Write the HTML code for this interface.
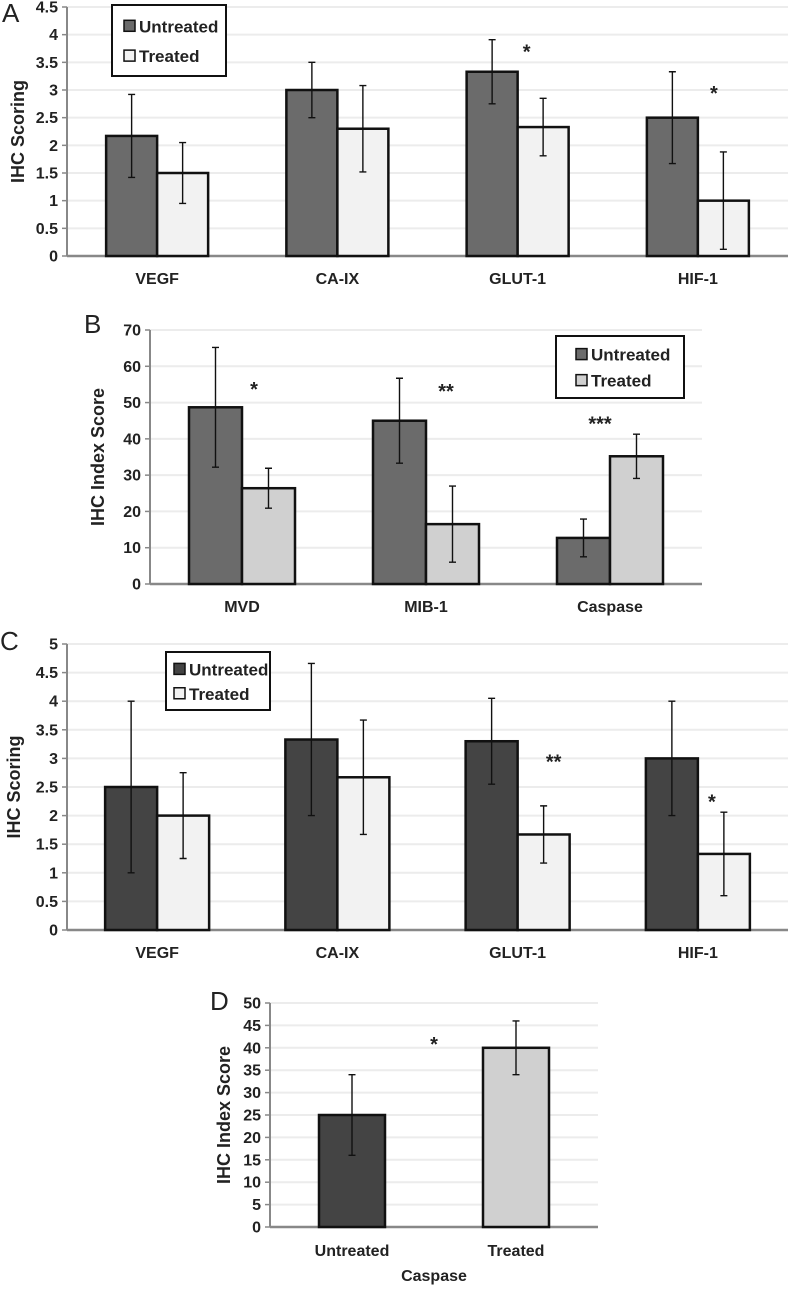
<!DOCTYPE html>
<html><head><meta charset="utf-8"><style>
body{margin:0;background:#fff;width:799px;height:1285px;overflow:hidden}
svg{font-family:"Liberation Sans",Arial,sans-serif}
</style></head><body>
<svg id="s" width="799" height="1285" xmlns="http://www.w3.org/2000/svg"></svg>
<script>
// Panel A
const catsA=["VEGF","CA-IX","GLUT-1","HIF-1"];
const untrA=[2.17,3.0,3.33,2.5];
const untrErrA=[0.75,0.5,0.58,0.83];
const trA=[1.5,2.3,2.33,1.0];
const trErrA=[0.55,0.78,0.52,0.88];
const ticksA=["0","0.5","1","1.5","2","2.5","3","3.5","4","4.5"];
const starsA=["","","*","*"];
const starValA=[0,0,3.75,3.0];
// Panel B
const catsB=["MVD","MIB-1","Caspase"];
const untrB=[48.7,45,12.7];
const untrErrB=[16.5,11.7,5.2];
const trB=[26.4,16.5,35.2];
const trErrB=[5.5,10.5,6.1];
const ticksB=["0","10","20","30","40","50","60","70"];
const starsB=["*","**","***"];
const starValB=[54.5,54,45];
// Panel C
const catsC=["VEGF","CA-IX","GLUT-1","HIF-1"];
const untrC=[2.5,3.33,3.3,3.0];
const untrErrC=[1.5,1.33,0.75,1.0];
const trC=[2.0,2.67,1.67,1.33];
const trErrC=[0.75,1.0,0.5,0.73];
const ticksC=["0","0.5","1","1.5","2","2.5","3","3.5","4","4.5","5"];
const starsC=["","","**","*"];
const starValC=[0,0,3.0,2.3];
// Panel D
const catsD=["Untreated","Treated"];
const valsD=[25,40];
const errD=[9,6];
const ticksD=["0","5","10","15","20","25","30","35","40","45","50"];

const NS="http://www.w3.org/2000/svg";
const svg=document.getElementById('s');
function mk(tag,attrs,parent){const e=document.createElementNS(NS,tag);for(const k in attrs)e.setAttribute(k,attrs[k]);(parent||svg).appendChild(e);return e;}
function txt(x,y,s,size,anchor,weight,parent){const t=mk('text',{x:x,y:y,'font-size':size,'text-anchor':anchor,'font-weight':weight,fill:'#222'},parent);t.textContent=s;return t;}

function panel(o){
  const g=mk('g',{});
  
  
  const ticks=o.ticks.map(Number);const maxV=ticks[ticks.length-1];
  const y=v=>o.y0-(v/maxV)*(o.y0-o.yTop);
  const gw=(o.x1-o.x0)/o.cats.length;
  const xc=i=>o.x0+gw*(i+0.5);
  ticks.forEach((tv,i)=>{
    const l=mk('line',{x1:o.x0,x2:o.x1,y1:y(tv),y2:y(tv),stroke:i?'#ececec':'#888','stroke-width':i?2:2.5},g);
    
    mk('line',{x1:o.x0-5,x2:o.x0,y1:y(tv),y2:y(tv),stroke:'#888','stroke-width':1.5},g);
    const t=txt(o.x0-9,y(tv)+5.5,o.ticks[i],16,'end','bold',g);
    
  });
  const ax=mk('line',{x1:o.x0,x2:o.x0,y1:o.yTop,y2:o.y0,stroke:'#888','stroke-width':2},g);
  
  o.series.forEach((s,si)=>{
    s.vals.forEach((v,i)=>{
      const bx=o.single?xc(i)-o.bw/2:xc(i)-o.bw+si*o.bw;
      const fill=o.single?o.colors[i]:s.color;
      const r=mk('rect',{x:bx,y:y(v),width:o.bw,height:o.y0-y(v),fill:fill,stroke:'#111','stroke-width':2.5},g);
      
      const cx=bx+o.bw/2,e=s.err[i];
      const eb=mk('path',{d:`M${cx-3.5},${y(v+e)}H${cx+3.5}M${cx},${y(v+e)}V${y(Math.max(v-e,0))}M${cx-3.5},${y(Math.max(v-e,0))}H${cx+3.5}`,stroke:'#111','stroke-width':1.4,fill:'none'},g);
      
    });
  });
  o.cats.forEach((c,i)=>{const t=txt(xc(i),o.catY,c,16,'middle','bold',g);});
  if(o.stars)o.stars.forEach((s,i)=>{if(!s)return;const t=txt(xc(i)+o.starDx[i],y(o.starVals[i])+10,s,20,'middle','bold',g);});
  const at=txt(0,0,o.title,18,'middle','bold',g);at.setAttribute('transform',`translate(${o.titleX},${(o.y0+o.yTop)/2}) rotate(-90)`);
  
  const pl=mk('text',{x:o.labX,y:o.labY,'font-size':26,fill:'#222'},g);pl.textContent=o.label;
  
  if(o.legend){const L=o.legend;
    const lg=mk('g',{},g);
    mk('rect',{x:L.x,y:L.y,width:L.w,height:L.h,fill:'#fff',stroke:'#111','stroke-width':2},lg);
    o.series.forEach((s,si)=>{const yy=L.y+L.h*(si?0.72:0.3);
      const sw=mk('rect',{x:L.x+L.sx,y:yy-6,width:11,height:11,fill:s.color,stroke:'#111','stroke-width':1.5},lg);
      
      const t=txt(L.x+L.sx+15,yy+6,s.key==='untreated'?'Untreated':'Treated',17,'start','bold',lg);
      });
  }
  if(o.xTitle){const t=txt((o.x0+o.x1)/2,o.xTitleY,o.xTitle,16,'middle','bold',g);}
}

panel({name:'panel-a',label:'A',labX:2,labY:22,cats:catsA,ticks:ticksA,x0:67,x1:788,y0:256,yTop:7,bw:51,catY:284,
  series:[{key:'untreated',vals:untrA,err:untrErrA,color:'#6b6b6b'},{key:'treated',vals:trA,err:trErrA,color:'#f2f2f2'}],
  stars:starsA,starVals:starValA,starDx:[0,0,9,16],title:'IHC Scoring',titleX:24,legend:{x:112,y:5,w:114,h:71,sx:12}});
panel({name:'panel-b',label:'B',labX:84,labY:333,cats:catsB,ticks:ticksB,x0:150,x1:702,y0:584,yTop:330,bw:53,catY:612,
  series:[{key:'untreated',vals:untrB,err:untrErrB,color:'#6b6b6b'},{key:'treated',vals:trB,err:trErrB,color:'#d0d0d0'}],
  stars:starsB,starVals:starValB,starDx:[12,20,-10],title:'IHC Index Score',titleX:104,legend:{x:556,y:336,w:128,h:62,sx:20}});
panel({name:'panel-c',label:'C',labX:0,labY:650,cats:catsC,ticks:ticksC,x0:67,x1:788,y0:930,yTop:644,bw:52,catY:958,
  series:[{key:'untreated',vals:untrC,err:untrErrC,color:'#444444'},{key:'treated',vals:trC,err:trErrC,color:'#f2f2f2'}],
  stars:starsC,starVals:starValC,starDx:[0,0,36,14],title:'IHC Scoring',titleX:20,legend:{x:166,y:652,w:104,h:58,sx:8}});
panel({name:'panel-d',label:'D',labX:210,labY:1010,cats:catsD,ticks:ticksD,x0:270,x1:598,y0:1227,yTop:1003,bw:66,single:true,catY:1256,colors:['#444444','#d0d0d0'],
  series:[{key:'caspase',vals:valsD,err:errD,color:'#444'}],
  stars:['','*'],starVals:[0,41.5],starDx:[0,-82],title:'IHC Index Score',titleX:230,xTitle:'Caspase',xTitleY:1281});
</script>
</body></html>
